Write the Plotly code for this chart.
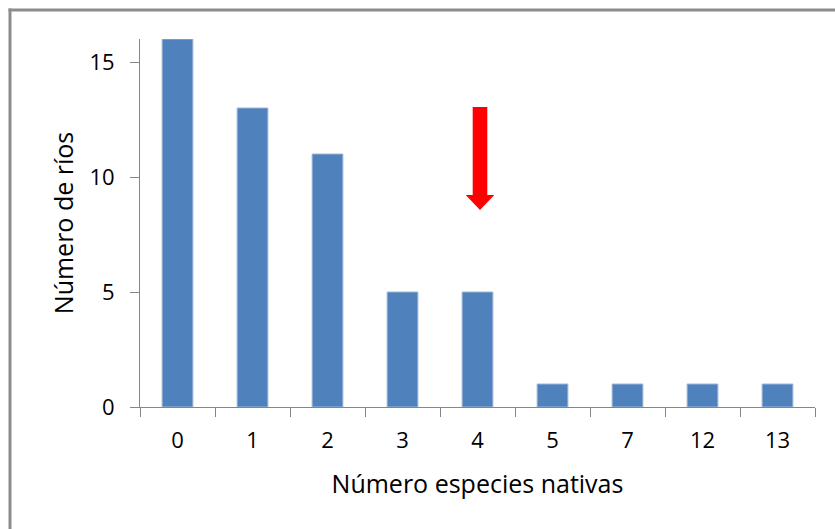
import plotly.graph_objects as go

categories = ["0", "1", "2", "3", "4", "5", "7", "12", "13"]
rios = [16, 13, 11, 5, 5, 1, 1, 1, 1]
y_ticks = [0, 5, 10, 15]

W, H = 835, 529
L, R, T, B = 140, 20, 39, 122
PW, PH = W - L - R, H - T - B

def px(x):  # screen x -> paper
    return (x - L) / PW

def py(y):  # screen y -> paper
    return (H - B - y) / PH

FONT = "Open Sans"
AXIS_COLOR = "#868686"
TXT = "#000000"
BORDER = "#8c8c8c"

fig = go.Figure(go.Bar(
    x=categories, y=rios,
    marker=dict(color="#4f81bd", line=dict(color="#9fb6d8", width=1)),
    width=0.41,
))

# arrow (annotation)
shaft_l, shaft_r, head_l, head_r, cx = px(472.7), px(487.3), px(465.7), px(494.3), px(480)
top, shaft_b, tip = py(107), py(195), py(210)
arrow_path = (f"M {shaft_l},{top} L {shaft_r},{top} L {shaft_r},{shaft_b} L {head_r},{shaft_b} "
              f"L {cx},{tip} L {head_l},{shaft_b} L {shaft_l},{shaft_b} Z")

shapes = [
    dict(type="path", xref="paper", yref="paper", path=arrow_path,
         fillcolor="#ff0000", line=dict(color="#ff0000", width=0)),
    # chart-area frame (only top and left edges are visible in the reference)
    dict(type="line", xref="paper", yref="paper",
         x0=px(8.5), x1=px(836), y0=py(10), y1=py(10),
         line=dict(color=BORDER, width=3)),
    dict(type="line", xref="paper", yref="paper",
         x0=px(10), x1=px(10), y0=py(8.5), y1=py(530),
         line=dict(color=BORDER, width=3)),
]

fig.update_layout(
    width=W, height=H,
    margin=dict(l=L, r=R, t=T, b=B, pad=0),
    paper_bgcolor="white", plot_bgcolor="white",
    font=dict(family=FONT, size=22, color=TXT),
    showlegend=False,
    shapes=shapes,
    xaxis=dict(
        type="category",
        showline=True, linecolor=AXIS_COLOR, linewidth=1,
        ticks="outside", tickson="boundaries", ticklen=9, tickcolor=AXIS_COLOR,
        showgrid=False, zeroline=False,
        tickfont=dict(family=FONT, size=22, color=TXT),
        ticklabelstandoff=14,
        title=dict(text="Número especies nativas", font=dict(family=FONT, size=25, color=TXT), standoff=22),
    ),
    yaxis=dict(
        range=[0, 16],
        tickvals=y_ticks,
        showline=True, linecolor=AXIS_COLOR, linewidth=1,
        ticks="outside", ticklen=9, tickcolor=AXIS_COLOR,
        showgrid=False, zeroline=False,
        tickfont=dict(family=FONT, size=22, color=TXT),
        ticklabelstandoff=11,
        title=dict(text="Número de ríos", font=dict(family=FONT, size=25, color=TXT), standoff=8),
    ),
)

fig.write_html(
    "out.html",
    config={"displayModeBar": False},
    post_script="document.body.style.margin='0';document.body.style.overflow='hidden';"
                "document.documentElement.style.overflow='hidden';",
)
